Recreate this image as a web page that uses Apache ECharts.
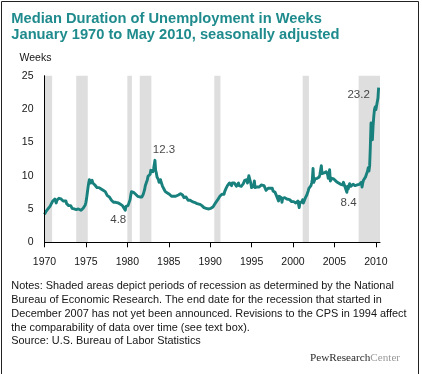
<!DOCTYPE html>
<html>
<head>
<meta charset="utf-8">
<script src="https://cdn.jsdelivr.net/npm/echarts@6/dist/echarts.min.js"></script>
<style>
html,body{margin:0;padding:0;background:#fff;}
#chart{width:422px;height:374px;}
</style>
</head>
<body>
<div id="chart"></div>
<script>
// ---- Data (median weeks unemployed, monthly, seasonally adjusted) ----
const startYear = 1970;
const weeks1970s = [
  4.2,4.4,4.6,4.5,4.7,5.0,5.3,5.2,5.4,5.6,5.8,5.9,
  6.2,6.3,6.4,6.5,6.7,5.9,6.3,6.5,6.4,6.6,6.4,6.7,
  6.5,6.3,6.4,6.2,6.0,6.3,6.3,6.2,5.8,5.8,5.6,5.5,
  5.4,5.3,5.5,5.3,5.1,5.0,5.1,5.0,5.0,4.8,4.9,4.9,
  5.1,5.0,4.8,4.9,4.9,4.8,4.9,5.0,5.1,5.2,5.3,5.6,
  6.0,6.6,7.4,8.2,8.9,9.4,9.1,8.9,9.2,9.3,8.9,9.2,
  9.0,8.6,8.8,8.5,8.2,8.1,8.4,8.2,7.9,8.1,8.0,8.2,
  7.9,7.8,7.6,7.5,7.6,7.4,7.3,7.0,7.2,6.9,6.8,6.7,
  6.5,6.3,6.1,6.2,6.0,5.9,5.9,6.0,6.0,5.8,5.8,5.9,
  5.9,5.9,5.7,5.9,5.6,5.5,5.6,5.3,5.3,4.8,5.4,5.5
];
const weeks1980s = [
  5.4,5.5,5.6,5.5,6.4,7.1,7.6,7.7,7.6,7.5,7.3,7.4,
  7.2,7.2,7.0,6.9,6.7,7.0,6.8,6.8,6.9,6.8,7.0,7.2,
  7.5,7.9,8.5,8.6,8.8,9.4,9.9,9.6,10.1,10.2,10.8,10.5,
  10.8,10.6,11.0,11.3,12.3,10.8,10.4,9.8,9.5,9.4,9.0,9.2,
  9.4,9.0,8.9,8.4,8.4,8.0,8.0,7.6,7.6,7.3,7.4,7.3,
  7.3,7.2,7.1,7.0,6.9,7.0,6.8,6.9,6.9,7.0,6.9,6.8,
  7.0,7.0,7.1,6.9,7.0,7.3,7.4,7.0,7.1,6.9,6.7,6.6,
  6.7,6.8,6.6,6.5,6.3,6.3,6.1,6.3,6.4,6.2,6.1,6.0,
  6.1,6.0,6.1,5.9,5.9,5.8,5.9,5.8,5.8,5.7,5.5,5.6,
  5.5,5.4,5.4,5.2,5.1,5.0,5.1,5.4,5.3,5.0,5.1,5.0
];
const weeks1990s = [
  5.0,5.1,5.3,5.2,5.3,5.4,5.6,5.8,5.9,6.1,6.1,6.4,
  6.5,6.7,6.9,7.0,6.8,7.2,7.4,7.4,7.2,7.6,7.8,8.1,
  8.3,8.5,8.7,8.6,8.9,9.0,8.6,8.5,8.9,8.8,9.0,8.9,
  8.6,8.6,8.4,8.3,8.5,8.9,8.5,8.7,8.7,8.4,8.4,8.4,
  8.8,8.8,9.3,9.2,9.1,9.4,8.9,9.4,10.0,9.6,9.6,8.8,
  8.2,8.5,8.5,8.4,9.2,8.2,8.3,8.5,8.3,8.4,8.4,8.3,
  8.4,8.0,8.6,8.6,8.4,8.4,8.5,8.6,8.3,7.8,7.9,7.9,
  8.1,8.0,8.3,8.1,8.0,7.9,8.1,7.7,7.5,7.6,7.5,7.3,
  7.0,6.8,6.7,6.2,6.9,6.7,6.8,6.7,6.0,6.6,6.8,6.8,
  6.7,6.6,6.8,6.5,6.3,6.4,6.4,6.4,6.5,6.3,6.1,6.2
];
const weeks2000s = [
  5.9,6.1,6.0,6.1,5.9,5.8,6.0,6.2,6.0,5.2,6.0,5.9,
  5.8,6.0,6.4,5.9,6.2,6.1,6.7,6.9,7.1,7.3,7.7,8.1,
  8.4,8.3,8.5,8.9,9.4,11.1,9.0,9.1,9.5,9.6,9.4,9.6,
  9.6,9.6,9.8,10.2,9.9,11.5,10.3,10.1,10.3,10.4,10.3,10.5,
  10.6,10.3,10.2,9.6,9.9,10.9,9.2,9.4,9.6,9.5,9.7,9.5,
  9.4,9.3,9.3,9.1,9.1,9.0,8.9,9.2,8.6,8.7,8.6,8.7,
  8.6,9.0,8.7,8.4,8.5,8.1,7.5,8.4,8.0,8.0,8.8,8.5,
  8.4,8.3,8.5,8.7,8.7,8.6,8.5,8.7,8.5,8.6,8.4,8.4,
  8.7,8.7,8.6,9.0,8.3,8.9,9.3,9.4,9.6,9.8,9.6,10.0,
  10.7,11.2,10.7,11.5,14.3,17.9,15.9,15.4,17.5,18.9,19.9,20.3
];
const weeks2010 = [19.9,20.0,20.2,21.6,23.2];

// NBER recessions, [start, end] in decimal years
const recessions = [
  [1970.0, 1970.92], [1973.83, 1975.22], [1980.0, 1980.55],
  [1981.5, 1982.9], [1990.5, 1991.24], [2001.17, 2001.92], [2007.92, 2010.5]
];
// Labelled months [year, month]
const calloutMonths = [[1983, 5], [1979, 10], [2007, 12], [2010, 5]];
const xTicks = [1970, 1975, 1980, 1985, 1990, 1995, 2000, 2005, 2010];
const yTicks = [0, 5, 10, 15, 20, 25];

// ---- Styles ----
const calloutOffsets = [[9, -11], [-7, 10], [-10, 17], [-20, 7]];
const TEAL_LINE = '#18807d';
const TEAL_TITLE = '#1f8b8d';
const SHADE = '#dedede';
const FONT = '"Liberation Sans", Arial, sans-serif';
const TEXT = '#151515';

const monthly = [].concat(weeks1970s, weeks1980s, weeks1990s, weeks2000s, weeks2010);
const lineData = monthly.map((v, i) => [startYear + i / 12, v]);
const calloutData = calloutMonths.map(([y, m], k) => {
  const idx = (y - startYear) * 12 + (m - 1);
  return {
    value: lineData[idx],
    label: { offset: calloutOffsets[k] }
  };
});

const chart = echarts.init(document.getElementById('chart'), null, { renderer: 'canvas' });
chart.setOption({
  animation: false,
  backgroundColor: '#fff',
  grid: { left: 44.5, right: 42, top: 75.7, bottom: 131.7, containLabel: false },
  xAxis: {
    type: 'value', min: 1970, max: 2010.5, z: 10,
    axisLine: { show: true, lineStyle: { color: '#000', width: 1 } },
    axisTick: { show: true, customValues: xTicks, length: 5, lineStyle: { color: '#000', width: 1 } },
    axisLabel: { customValues: xTicks, fontSize: 10.5, fontFamily: FONT, color: TEXT, margin: 14,
      formatter: v => String(v) },
    splitLine: { show: false }
  },
  yAxis: {
    type: 'value', min: 0, max: 25, interval: 5, z: 10,
    axisLine: { show: true, lineStyle: { color: '#000', width: 1 } },
    axisTick: { show: false },
    axisLabel: { fontSize: 10.5, fontFamily: FONT, color: TEXT, margin: 11,
      formatter: v => yTicks.includes(v) ? String(v) : '' },
    splitLine: { show: false }
  },
  series: [
    {
      name: 'recessions', type: 'line', data: lineData, z: 1, silent: true,
      showSymbol: false, lineStyle: { opacity: 0 },
      markArea: {
        silent: true,
        itemStyle: { color: SHADE },
        data: recessions.map(([a, b]) => [{ xAxis: a }, { xAxis: b }])
      }
    },
    {
      name: 'Median weeks', type: 'line', data: lineData, z: 3,
      showSymbol: false, silent: true,
      lineStyle: { color: TEAL_LINE, width: 2.9, join: 'round' }
    },
    {
      name: 'callouts', type: 'scatter', data: calloutData, z: 4,
      symbolSize: 0, silent: true,
      label: {
        show: true, position: 'inside', fontSize: 11.5, fontFamily: FONT, color: TEXT,
        formatter: p => p.value[1].toFixed(1)
      }
    }
  ],
  graphic: [
    { type: 'rect', shape: { x: 1.5, y: 1.5, width: 417, height: 400 },
      style: { fill: 'none', stroke: '#222', lineWidth: 1 }, silent: true },
    { type: 'text', left: 11.3, top: 11, style: {
        text: 'Median Duration of Unemployment in Weeks\nJanuary 1970 to May 2010, seasonally adjusted',
        font: 'bold 14.7px ' + FONT, fill: TEAL_TITLE, lineHeight: 16 } },
    { type: 'text', x: 19.5, y: 58, style: {
        text: 'Weeks', font: '10.5px ' + FONT, fill: TEXT, verticalAlign: 'middle' } },
    { type: 'text', x: 11.3, y: 279, style: {
        text: 'Notes: Shaded areas depict periods of recession as determined by the National\nBureau of Economic Research. The end date for the recession that started in\nDecember 2007 has not yet been announced. Revisions to the CPS in 1994 affect\nthe comparability of data over time (see text box).',
        font: '10.9px ' + FONT, fill: TEXT, lineHeight: 14, verticalAlign: 'top' } },
    { type: 'text', x: 11.3, y: 341, style: {
        text: 'Source: U.S. Bureau of Labor Statistics',
        font: '10.9px ' + FONT, fill: TEXT, verticalAlign: 'middle' } },
    { type: 'text', x: 310, y: 358, style: {
        text: '{a|PewResearch}{b|Center}', verticalAlign: 'middle',
        rich: {
          a: { fontFamily: '"Liberation Serif", serif', fontSize: 11.2, fill: '#2a2a2a' },
          b: { fontFamily: '"Liberation Serif", serif', fontSize: 11.2, fill: '#9a9a9a' }
        } } }
  ]
});
</script>
</body>
</html>
